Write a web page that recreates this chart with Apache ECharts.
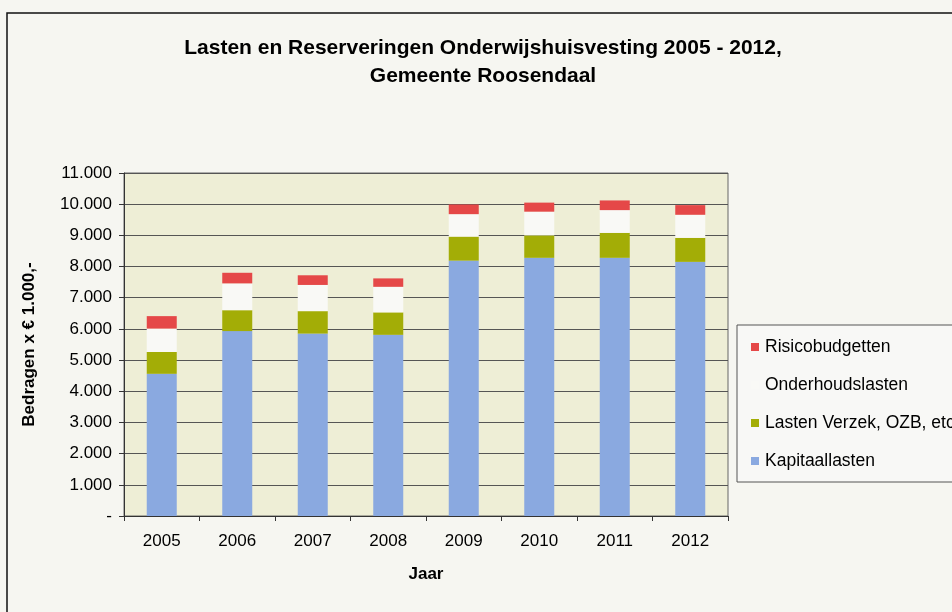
<!DOCTYPE html>
<html>
<head>
<meta charset="utf-8">
<script src="https://cdn.jsdelivr.net/npm/echarts@6/dist/echarts.min.js"></script>
<style>
  html, body { margin: 0; padding: 0; background: #f6f6f1; }
  #chart { width: 952px; height: 612px; }
</style>
</head>
<body>
<div id="chart"></div>
<script>
// Jaren (categorieën)
const jaren = ['2005', '2006', '2007', '2008', '2009', '2010', '2011', '2012'];

// Bedragen x € 1.000,- per component
const kapitaallasten   = [4560, 5930, 5850, 5810, 8190, 8280, 8280, 8150];
const lastenVerzek     = [700, 670, 720, 720, 770, 720, 800, 770];
const onderhoudslasten = [750, 860, 840, 820, 720, 760, 730, 740];
const risicobudgetten  = [400, 340, 310, 270, 310, 290, 310, 310];

// Y-as labels: 1.000-notatie, nul als streepje
const yTickLabels = ['-', '1.000', '2.000', '3.000', '4.000', '5.000',
  '6.000', '7.000', '8.000', '9.000', '10.000', '11.000'];

const FONT = '"Liberation Sans", Arial, sans-serif';

const chart = echarts.init(document.getElementById('chart'));

function bar(name, data, color) {
  return {
    name: name,
    type: 'bar',
    stack: 'totaal',
    data: data,
    barWidth: 30,
    itemStyle: { color: color },
    emphasis: { disabled: true }
  };
}

chart.setOption({
  backgroundColor: '#f6f6f1',
  animation: false,
  textStyle: { fontFamily: FONT, color: '#000' },
  graphic: [
    {
      type: 'rect',
      shape: { x: 7, y: 13, width: 980, height: 640 },
      style: { fill: 'none', stroke: '#111', lineWidth: 1.5 },
      z: -1
    },
    {
      type: 'rect',
      shape: { x: 737, y: 325, width: 240, height: 157 },
      style: { fill: '#f8f8f6', stroke: '#555', lineWidth: 1 },
      z: 0
    }
  ],
  title: {
    text: 'Lasten en Reserveringen Onderwijshuisvesting 2005 - 2012,\nGemeente Roosendaal',
    left: 478,
    textAlign: 'center',
    top: 29,
    textStyle: {
      fontFamily: FONT,
      fontSize: 21,
      fontWeight: 'bold',
      color: '#000',
      lineHeight: 28
    }
  },
  legend: {
    orient: 'vertical',
    left: 746,
    top: 333,
    itemGap: 20,
    itemWidth: 8,
    itemHeight: 8,
    icon: 'rect',
    z: 5,
    data: ['Risicobudgetten', 'Onderhoudslasten', 'Lasten Verzek, OZB, etc', 'Kapitaallasten'],
    textStyle: { fontFamily: FONT, fontSize: 17.5, color: '#000', padding: [0, 0, 0, 1] },
    selectedMode: false
  },
  grid: {
    left: 124,
    right: 224,
    top: 173,
    bottom: 96,
    show: true,
    backgroundColor: '#eeeed6',
    borderColor: '#666',
    borderWidth: 1
  },
  xAxis: {
    type: 'category',
    data: jaren,
    name: 'Jaar',
    nameLocation: 'middle',
    nameGap: 50,
    nameTextStyle: { fontFamily: FONT, fontSize: 17, fontWeight: 'bold', color: '#000' },
    axisLine: { lineStyle: { color: '#333', width: 1 } },
    axisTick: { show: true, length: 5, lineStyle: { color: '#333' } },
    axisLabel: { fontFamily: FONT, fontSize: 17, color: '#000', margin: 17 }
  },
  yAxis: {
    type: 'value',
    min: 0,
    max: 11000,
    interval: 1000,
    name: 'Bedragen x € 1.000,-',
    nameLocation: 'middle',
    nameGap: 86,
    nameTextStyle: { fontFamily: FONT, fontSize: 17, fontWeight: 'bold', color: '#000' },
    axisLine: { show: true, lineStyle: { color: '#333', width: 1 } },
    axisTick: { show: true, length: 5, lineStyle: { color: '#333' } },
    axisLabel: {
      fontFamily: FONT,
      fontSize: 17,
      color: '#000',
      margin: 12,
      formatter: function (v) { return yTickLabels[Math.round(v / 1000)]; }
    },
    splitLine: { show: true, lineStyle: { color: '#555', width: 1 } }
  },
  series: [
    bar('Kapitaallasten', kapitaallasten, '#8aa9e0'),
    bar('Lasten Verzek, OZB, etc', lastenVerzek, '#a3ad06'),
    bar('Onderhoudslasten', onderhoudslasten, '#f9f9f6'),
    bar('Risicobudgetten', risicobudgetten, '#e54848')
  ]
});
</script>
</body>
</html>
